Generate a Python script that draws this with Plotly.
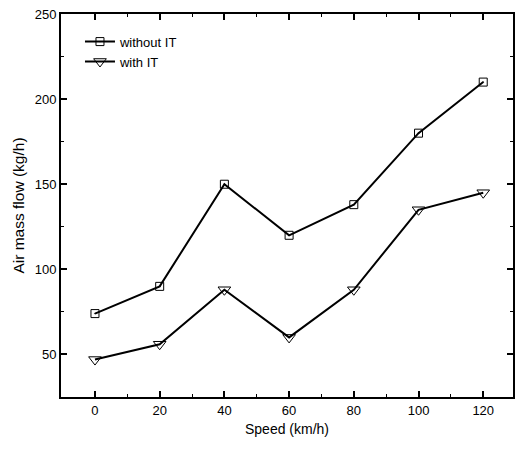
import plotly.graph_objects as go

speed = [0, 20, 40, 60, 80, 100, 120]
without_it = [74, 90, 150, 120, 138, 180, 210]
with_it = [47, 56, 88, 60, 88, 135, 145]
x_ticks = [0, 20, 40, 60, 80, 100, 120]
y_ticks = [50, 100, 150, 200, 250]

fig = go.Figure()
fig.add_trace(go.Scatter(x=speed, y=without_it, mode="lines+markers", name="without IT",
                         line=dict(color="black", width=2),
                         marker=dict(symbol="square-open-dot", size=8, color="black", line=dict(width=1))))
fig.add_trace(go.Scatter(x=speed, y=with_it, mode="lines+markers", name="with IT",
                         line=dict(color="black", width=2),
                         marker=dict(symbol="triangle-down-open", size=11, color="black", line=dict(width=1))))

axis_common = dict(showline=True, linecolor="black", linewidth=2, mirror="allticks",
                   ticks="inside", ticklen=6, tickwidth=1.5, tickcolor="black",
                   showgrid=False, zeroline=False,
                   tickfont=dict(family="Liberation Sans, Arial", size=13, color="black"),
                   minor=dict(ticks="inside", ticklen=3, tickwidth=1, tickcolor="black"))

fig.update_xaxes(range=[-10.5, 129.2], tickvals=x_ticks,
                 minor_tickvals=[10, 30, 50, 70, 90, 110],
                 title=dict(text="Speed (km/h)", font=dict(family="Liberation Sans, Arial", size=14, color="black"), standoff=8),
                 **axis_common)
fig.update_yaxes(range=[25, 250], tickvals=y_ticks,
                 minor_tickvals=[25, 75, 125, 175, 225],
                 title=dict(text="Air mass flow (kg/h)", font=dict(family="Liberation Sans, Arial", size=15.5, color="black"), standoff=6),
                 **axis_common)

fig.update_layout(width=517, height=449, margin=dict(l=61, r=2, t=14, b=52),
                  plot_bgcolor="white", paper_bgcolor="white",
                  showlegend=True,
                  legend=dict(x=0.042, y=0.967, xanchor="left", yanchor="top",
                              bgcolor="rgba(0,0,0,0)", font=dict(family="Liberation Sans, Arial", size=13, color="black"),
                              itemwidth=30, tracegroupgap=0))
fig.write_html("out.html")
